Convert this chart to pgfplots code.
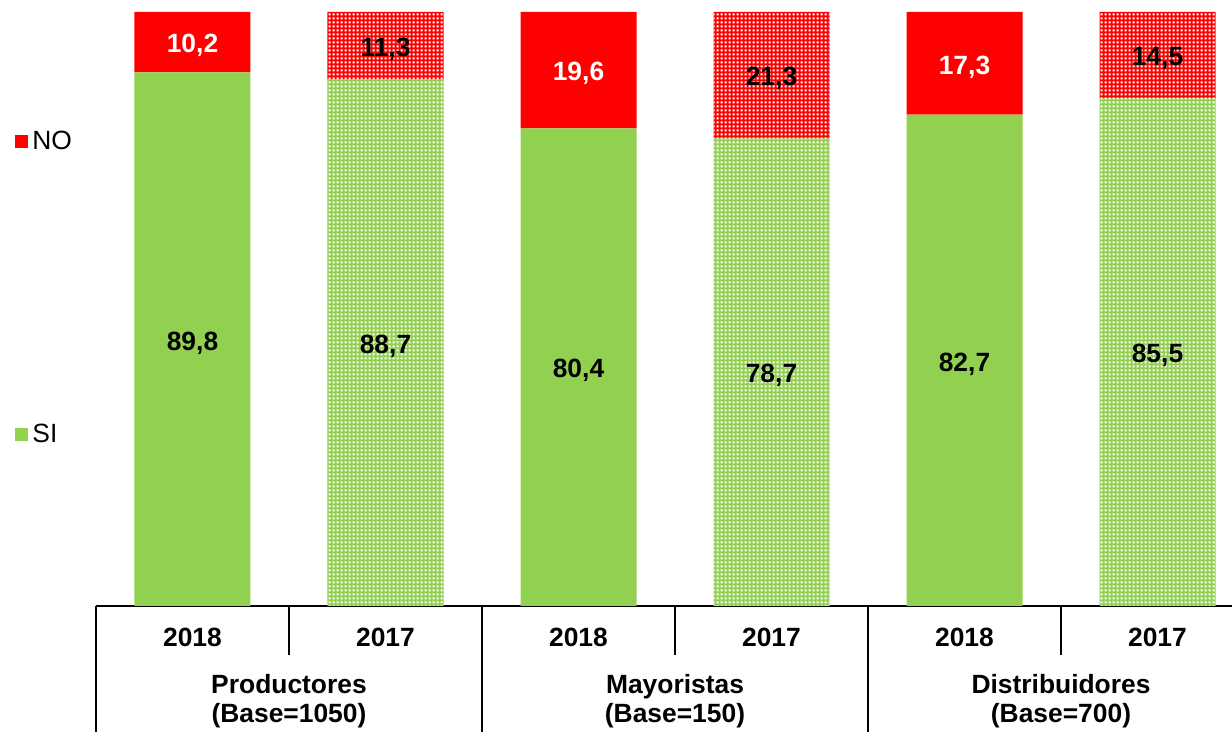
\documentclass[border=0pt]{standalone}
\usepackage{pgfplots}
\pgfplotsset{compat=1.18}
\usepackage{pgfplotstable}
\usepackage{fontspec}
\setmainfont{Liberation Sans}
\usetikzlibrary{patterns}
\definecolor{cgreen}{HTML}{92D050}
\definecolor{cred}{HTML}{FF0000}
\pgfdeclarepatternformonly{wdots}{\pgfqpoint{0pt}{0pt}}{\pgfqpoint{2pt}{2pt}}{\pgfqpoint{2pt}{2pt}}{\pgfpathrectangle{\pgfqpoint{0.35pt}{0.35pt}}{\pgfqpoint{1.3pt}{1.3pt}}\pgfusepath{fill}}
\pgfplotstableread{
x si18 si17 no18 no17
0 89.8 0 10.2 0
1 0 88.7 0 11.3
2 80.4 0 19.6 0
3 0 78.7 0 21.3
4 82.7 0 17.3 0
5 0 85.5 0 14.5
}\datatable
\newcommand{\lblfont}{\fontsize{13.2}{14.6}\selectfont}
\begin{document}
\begin{tikzpicture}
\begin{axis}[
  at={(0pt,0pt)}, anchor=south west,
  scale only axis, width=568pt, height=303pt,
  xmin=-0.5, xmax=5.386, ymin=0, ymax=102,
  ybar stacked, bar width=58pt,
  axis line style={draw=none},
  ytick=\empty,
  xtick={0,...,5}, xticklabels={2018,2017,2018,2017,2018,2017},
  major tick length=0pt,
  xticklabel style={font=\lblfont\bfseries, anchor=center, yshift=-15.5pt},
  clip=false,
  /pgf/number format/use comma,
  /pgf/number format/fixed,
  /pgf/number format/fixed zerofill,
  /pgf/number format/precision=1,
  /pgf/number format/assume math mode=true,
  point meta=explicit,
  nodes near coords={\pgfmathfloatifflags{\pgfplotspointmeta}{0}{}{\pgfmathprintnumber{\pgfplotspointmeta}}},
  every node near coord/.style={font=\lblfont\bfseries, text=black, anchor=center, yshift=-1.8pt},
  legend image code/.code={\fill[#1] (0pt,-3.25pt) rectangle (6.5pt,3.25pt);},
  legend style={draw=none, fill=none, at={(axis description cs:-0.0713,0.5246)}, anchor=west, font=\lblfont, row sep=132pt, inner sep=0pt},
  legend cell align=left,
  reverse legend,
]
\addplot[fill=cgreen, draw=none] table[x=x, y=si18, meta=si18] {\datatable};
\addlegendentry{SI}
\addplot[fill=cgreen, draw=none, postaction={pattern=wdots, pattern color=white}, forget plot] table[x=x, y=si17, meta=si17] {\datatable};
\addplot[fill=cred, draw=none, every node near coord/.append style={text=white}] table[x=x, y=no18, meta=no18] {\datatable};
\addlegendentry{NO}
\addplot[fill=cred, draw=none, postaction={pattern=wdots, pattern color=white}, forget plot] table[x=x, y=no17, meta=no17] {\datatable};

\draw[line width=0.6pt] (rel axis cs:0,0) -- (rel axis cs:1,0);
\draw[line width=0.6pt] (axis cs:-0.5,0) -- ++(0pt,-63pt);
\draw[line width=0.6pt] (axis cs:1.5,0) -- ++(0pt,-63pt);
\draw[line width=0.6pt] (axis cs:3.5,0) -- ++(0pt,-63pt);
\draw[line width=0.6pt] (axis cs:0.5,0) -- ++(0pt,-24.5pt);
\draw[line width=0.6pt] (axis cs:2.5,0) -- ++(0pt,-24.5pt);
\draw[line width=0.6pt] (axis cs:4.5,0) -- ++(0pt,-24.5pt);
\node[font=\lblfont\bfseries, align=center, yshift=-47.5pt] at (axis cs:0.5,0) {Productores\\(Base=1050)};
\node[font=\lblfont\bfseries, align=center, yshift=-47.5pt] at (axis cs:2.5,0) {Mayoristas\\(Base=150)};
\node[font=\lblfont\bfseries, align=center, yshift=-47.5pt] at (axis cs:4.5,0) {Distribuidores\\(Base=700)};
\end{axis}
\pgfresetboundingbox
\path[use as bounding box] (-48pt,-63pt) rectangle (568pt,303pt);
\end{tikzpicture}
\end{document}
